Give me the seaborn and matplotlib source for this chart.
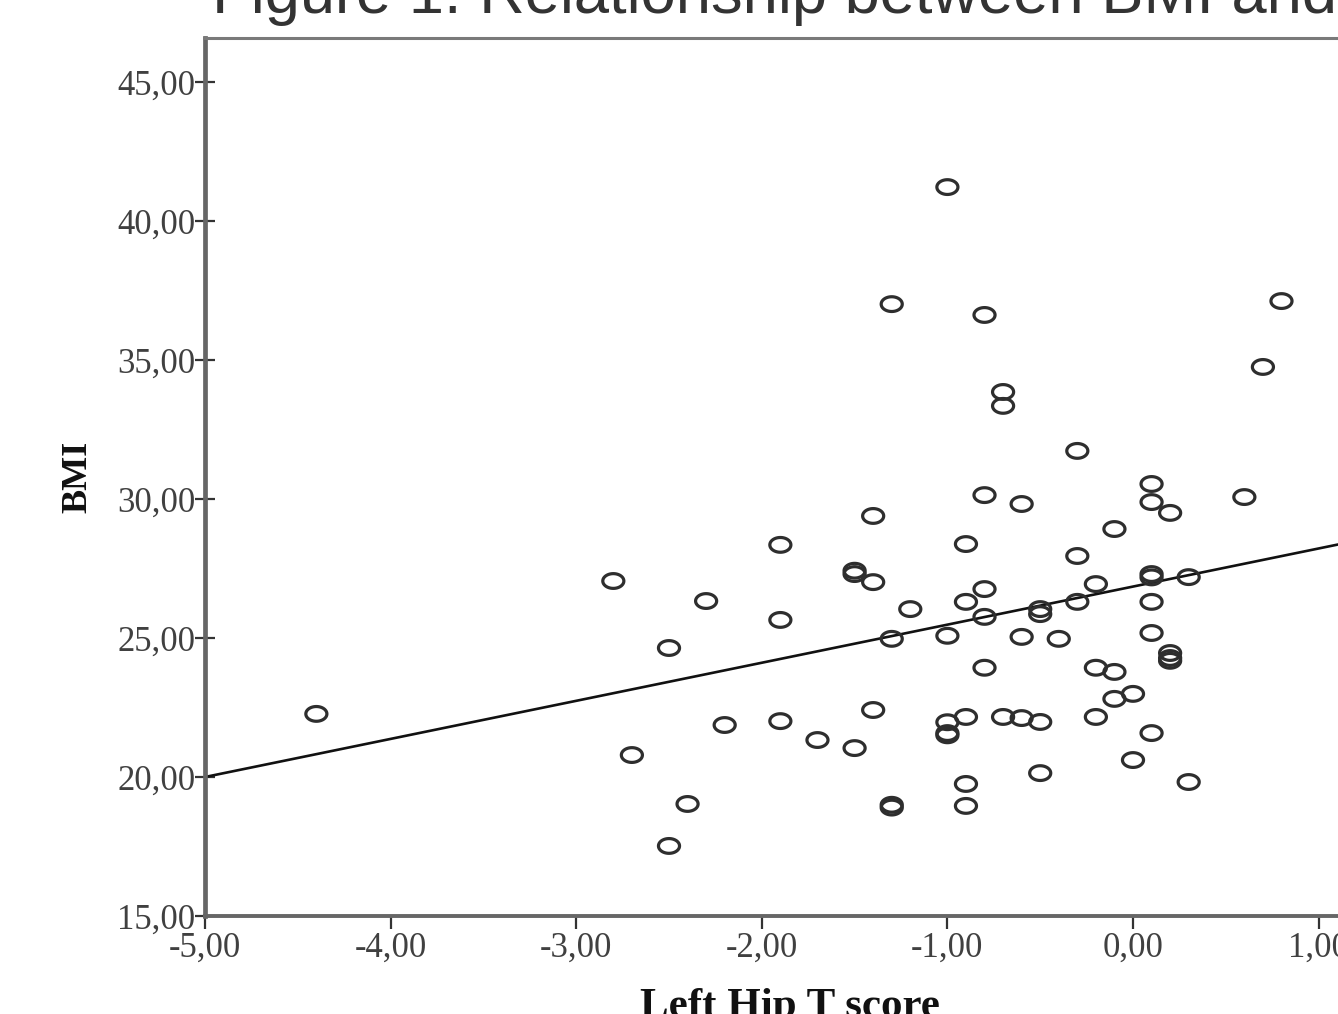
import numpy as np
import matplotlib
matplotlib.use("Agg")
import matplotlib.pyplot as plt
from matplotlib.path import Path
import seaborn as sns

# values
hip_t_score = [-1.0, -1.3, -0.8, 0.8, 0.7, -0.7, -0.7, -0.3, 0.1, -0.8,
               0.1, 0.6, -0.6, 0.2, -1.4, -0.1, -1.9, -0.9, -0.3, -1.5,
               -1.5, 0.1, 0.1, 0.3, -2.8, -1.4, -0.2, -0.8, -2.3, -0.9,
               -0.3, 0.1, -1.2, -0.5, -0.5, -0.8, -1.9, -1.3, -1.0, -0.6,
               -0.4, 0.1, -2.5, 0.2, 0.2, 0.2, -0.8, -0.2, -0.1, -0.1,
               0.0, -4.4, -1.4, -2.2, -1.9, -1.0, -0.9, -0.7, -0.6, -0.5,
               -0.2, -1.0, -1.0, 0.1, -1.7, -1.5, -2.7, 0.0, -0.5, -0.9,
               0.3, -2.4, -1.3, -1.3, -0.9, -2.5]
bmi = [41.22, 37.01, 36.62, 37.12, 34.75, 33.85, 33.35, 31.73, 30.54, 30.14,
       29.89, 30.07, 29.82, 29.50, 29.39, 28.92, 28.35, 28.38, 27.95, 27.42,
       27.30, 27.30, 27.18, 27.19, 27.05, 27.01, 26.94, 26.76, 26.33, 26.30,
       26.30, 26.30, 26.04, 26.04, 25.86, 25.76, 25.65, 24.97, 25.08, 25.04,
       24.97, 25.18, 24.64, 24.46, 24.28, 24.18, 23.93, 23.93, 23.78, 22.81,
       22.99, 22.27, 22.41, 21.87, 22.01, 21.97, 22.16, 22.16, 22.12, 21.98,
       22.16, 21.58, 21.50, 21.58, 21.33, 21.04, 20.79, 20.61, 20.14, 19.75,
       19.82, 19.03, 19.00, 18.90, 18.96, 17.52]

# fitted line (linear) as shown on the chart
fit_intercept = 26.85
fit_slope = 1.37

x_ticks = [-5, -4, -3, -2, -1, 0, 1]
x_tick_labels = ["-5,00", "-4,00", "-3,00", "-2,00", "-1,00", "0,00", "1,00"]
y_ticks = [15, 20, 25, 30, 35, 40, 45]
y_tick_labels = ["15,00", "20,00", "25,00", "30,00", "35,00", "40,00", "45,00"]

sns.set_theme(style="white")
plt.rcParams['font.family'] = ['Liberation Serif', 'DejaVu Serif']

W, H = 1338, 1014
fig = plt.figure(figsize=(W / 100, H / 100), dpi=100)
ax = fig.add_axes([205 / W, 98 / H, (W - 205) / W, 878 / H])

# slightly flattened circle marker (the source image is stretched)
t = np.linspace(0, 2 * np.pi, 60)
ellipse = Path(np.column_stack([np.cos(t), 0.70 * np.sin(t)]), closed=True)

sns.scatterplot(x=hip_t_score, y=bmi, ax=ax, marker=ellipse, s=230,
                facecolors="none", edgecolor="#2e2e2e", linewidth=2.3, zorder=3)

x_min, x_max = -5, -5 + (W - 205) / 185.6
line_x = np.array([x_min, x_max])
sns.lineplot(x=line_x, y=fit_intercept + fit_slope * line_x, ax=ax,
             color="#111111", linewidth=1.9, zorder=2)

ax.set_xlim(x_min, x_max)
ax.set_ylim(15, 15 + 878 / 27.8)
ax.set_xticks(x_ticks)
ax.set_xticklabels(x_tick_labels)
ax.set_yticks(y_ticks)
ax.set_yticklabels(y_tick_labels)
ax.tick_params(axis="both", left=True, bottom=True, width=1.6, color="#333333",
               labelsize=25, labelcolor="#404040")
ax.tick_params(axis="x", direction="out", length=9, pad=2)
ax.tick_params(axis="y", direction="inout", length=14, pad=0)

ax.spines["left"].set_linewidth(3.4)
ax.spines["left"].set_color("#666666")
ax.spines["bottom"].set_linewidth(2.8)
ax.spines["bottom"].set_color("#666666")
ax.spines["top"].set_linewidth(2.2)
ax.spines["top"].set_color("#7a7a7a")
ax.spines["right"].set_visible(False)

ax.set_xlabel("")
ax.set_ylabel("")

fig.text(78 / W, 1 - 477 / H, "BMI", rotation=90, ha="center", va="center",
         fontsize=26, fontweight="bold", color="#111111")
fig.text(790 / W, 1 - 988 / H, "Left Hip T score", ha="center", va="top",
         fontsize=31, fontweight="bold", color="#111111")

# title, clipped at the top of the image
fig.text(212 / W, 1 - 13 / H, "Figure 1. Relationship between BMI and Left Hip T score",
         ha="left", va="baseline", fontsize=45.5, color="#333333",
         family=["Liberation Sans", "DejaVu Sans"])

fig.savefig("out.png", dpi=100)
